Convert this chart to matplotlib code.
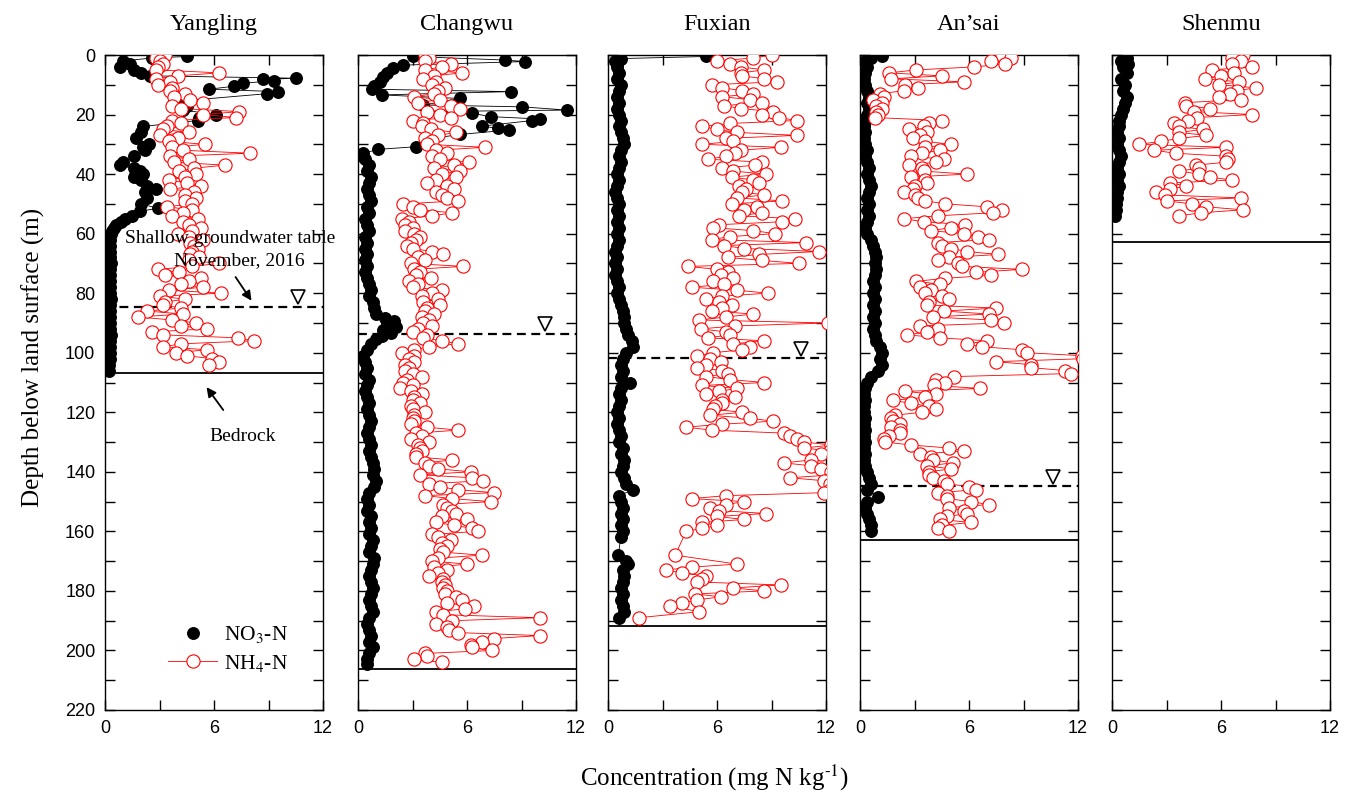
import numpy as np
import matplotlib

matplotlib.use("Agg")
import matplotlib.pyplot as plt

plt.rcParams["font.family"] = ["Liberation Serif", "DejaVu Serif"]
plt.rcParams["mathtext.fontset"] = "stix"

SITES = ["Yangling", "Changwu", "Fuxian", "An\u2019sai", "Shenmu"]
BEDROCK = [106.8, 206.2, 191.8, 162.9, 62.8]  # m
WATER_TABLE = [84.6, 93.7, 101.8, 144.8, None]  # m, November 2016
TRIANGLE_X = [10.6, 10.3, 10.6, 10.6, None]

# ---- NH4-N, sampled every 1 m from the surface (mg N / kg)
yl_nh4 = [
  3.3, 2.8, 3.0, 3.2, 2.9, 2.8, 6.3, 4.0, 2.8, 3.6,
  2.9, 3.7, 3.6, 4.4, 3.8, 4.7, 5.4, 3.7, 4.2, 7.4,
  5.4, 7.2, 3.7, 4.2, 3.4, 3.2, 4.6, 3.0, 4.0, 3.5,
  5.5, 3.7, 4.3, 8.0, 3.6, 4.6, 3.8, 6.6, 4.9, 4.1,
  5.0, 4.4, 3.5, 4.5, 5.3, 3.6, 4.9, 4.4, 5.0, 4.4,
  4.8, 3.4, 4.8, 4.3, 3.7, 5.1, 4.3, 4.6, 5.3, 4.8,
  4.0, 4.6, 5.4, 4.7, 4.9, 5.1, 4.8, 4.7, 5.2, 4.6,
  6.3, 4.8, 2.9, 4.1, 3.3, 5.3, 4.6, 4.2, 5.4, 3.5,
  6.4, 3.0, 4.4, 3.3, 3.2, 4.2, 2.3, 4.3, 1.8, 3.7,
  5.0, 4.2, 5.6, 2.6, 3.2, 7.3, 8.2, 4.2, 3.2, 5.6,
  3.9, 4.5, 5.9, 6.3, 5.7,
]
cw_nh4 = [
  3.7, 3.9, 3.7, 5.1, 4.6, 3.7, 5.7, 4.2, 3.6, 4.3,
  4.1, 4.8, 4.4, 4.2, 3.1, 4.5, 3.3, 5.1, 5.6, 3.8,
  4.5, 5.1, 3.0, 3.6, 3.5, 4.0, 5.4, 4.4, 3.7, 4.1,
  3.8, 7.0, 4.3, 4.9, 4.1, 4.5, 6.1, 5.3, 4.2, 5.6,
  4.6, 5.4, 4.3, 3.8, 4.9, 5.3, 4.3, 4.6, 4.9, 5.5,
  2.5, 3.0, 3.4, 5.2, 4.1, 2.4, 2.8, 2.6, 3.0, 2.6,
  3.1, 3.4, 3.2, 2.9, 2.7, 3.0, 4.1, 4.7, 3.3, 3.7,
  2.9, 5.8, 3.1, 3.4, 3.2, 4.0, 2.8, 3.3, 3.0, 4.6,
  4.1, 3.5, 4.4, 3.6, 4.5, 3.8, 3.7, 4.2, 3.5, 3.9,
  3.6, 4.1, 3.3, 3.0, 3.8, 3.6, 4.6, 5.5, 3.9, 3.1,
  2.4, 3.1, 2.8, 3.1, 2.6, 2.8, 2.6, 3.0, 3.5, 2.7,
  2.5, 3.0, 2.3, 2.9, 3.5, 3.1, 3.0, 3.4, 2.9, 3.0,
  3.7, 3.1, 3.0, 3.1, 2.9, 3.8, 5.5, 3.2, 3.5, 2.9,
  3.9, 3.3, 3.4, 3.5, 3.2, 3.2, 5.2, 3.7, 3.9, 4.4,
  6.2, 3.4, 6.3, 6.9, 3.9, 4.5, 5.5, 7.5, 3.7, 5.2,
  7.3, 4.7, 4.9, 5.2, 5.4, 4.6, 6.0, 4.3, 5.3, 6.3,
  6.6, 4.1, 4.4, 5.1, 4.6, 4.9, 4.5, 4.7, 6.8, 4.4,
  4.1, 6.0, 4.2, 4.9, 4.4, 3.9, 4.7, 4.6, 4.8, 4.7,
  4.9, 4.8, 5.4, 5.7, 4.9, 6.4, 5.9, 4.3, 4.7, 10.0,
  5.2, 4.3, 4.9, 5.0, 5.5, 10.0, 7.5, 6.8, 6.2, 6.3,
  7.4, 3.7, 3.8, 3.1, 4.6,
]
fx_nh4 = [
  9.0, 8.0, 6.0, 6.7, 7.3, 8.6, 7.3, 7.4, 8.6, 9.3,
  5.7, 6.3, 7.4, 8.0, 6.3, 7.8, 8.5, 6.4, 7.3, 9.1,
  8.5, 9.4, 10.4, 6.7, 5.2, 6.0, 7.1, 10.4, 6.5, 6.9,
  5.2, 9.5, 7.3, 7.0, 6.5, 5.5, 8.5, 8.1, 6.3, 6.9,
  8.7, 6.8, 8.0, 8.3, 7.2, 7.6, 7.4, 8.6, 7.1, 9.6,
  6.8, 8.2, 7.5, 8.5, 7.2, 10.3, 9.6, 6.1, 5.8, 8.0,
  9.2, 6.7, 5.7, 10.9, 6.4, 7.5, 11.6, 8.3, 6.6, 8.5,
  10.5, 4.4, 6.0, 6.6, 6.2, 6.9, 5.8, 6.4, 4.6, 7.1,
  8.8, 6.3, 5.4, 6.1, 6.8, 6.3, 5.7, 8.0, 6.5, 5.0,
  12.1, 7.0, 5.1, 6.5, 6.7, 5.5, 8.6, 6.9, 7.8, 7.4,
  5.8, 4.9, 5.6, 6.2, 5.4, 4.9, 6.3, 6.6, 5.4, 6.7,
  8.6, 5.2, 7.1, 6.1, 5.4, 7.0, 6.3, 6.3, 5.9, 5.8,
  7.4, 5.6, 7.8, 9.1, 6.3, 4.3, 5.7, 9.7, 10.0, 10.4,
  10.8, 12.3, 10.8, 12.2, 11.7, 12.4, 11.2, 9.7, 11.2, 11.7,
  12.3, 12.4, 10.0, 11.9, 12.2, 12.5, 12.2, 11.9, 6.5, 4.6,
  7.5, 6.5, 5.6, 6.1, 8.7, 6.0, 7.5, 5.2, 6.0, 5.2,
  4.3,
]
# Fuxian below 160 m was sampled irregularly
fx_nh4_tail_depth = [168, 171, 172, 173, 174, 175, 176, 177, 178, 179,
                     180, 181, 182, 183, 184, 185, 187, 189]
fx_nh4_tail = [3.7, 7.1, 4.6, 3.2, 4.1, 5.4, 5.2, 4.9, 9.5, 6.9,
               8.6, 4.8, 6.2, 4.9, 4.1, 3.4, 5.0, 1.7]
as_nh4 = [
  7.8, 8.3, 7.2, 8.0, 6.3, 3.1, 1.6, 4.5, 1.7, 5.7,
  2.5, 3.2, 2.4, 1.1, 1.3, 0.7, 1.2, 0.9, 1.2, 0.9,
  1.0, 0.8, 4.5, 3.8, 3.5, 2.7, 3.7, 3.3, 2.9, 3.6,
  5.0, 3.6, 4.4, 3.4, 2.8, 4.6, 4.2, 2.7, 3.4, 3.5,
  5.9, 2.8, 3.6, 3.7, 3.0, 2.9, 2.4, 3.0, 3.2, 3.6,
  4.7, 7.0, 7.8, 7.3, 4.3, 2.4, 3.5, 5.8, 5.0, 3.9,
  5.7, 6.5, 7.1, 4.3, 4.5, 5.0, 5.9, 7.6, 4.9, 4.3,
  5.4, 5.6, 8.9, 6.4, 7.2, 4.7, 3.1, 4.4, 3.3, 3.9,
  3.6, 4.5, 4.9, 3.8, 3.7, 7.5, 4.6, 7.1, 4.0, 7.2,
  7.9, 3.3, 4.3, 3.7, 2.6, 4.4, 7.0, 5.9, 6.7, 8.9,
  9.2, 12.2, 12.3, 7.5, 9.4, 9.4, 11.3, 11.6, 5.2, 4.2,
  4.7, 4.1, 6.6, 2.5, 4.2, 3.6, 1.8, 2.8, 3.8, 4.2,
  3.4, 1.9, 1.7, 1.8, 2.2, 1.7, 2.2, 2.2, 1.6, 1.3,
  1.4, 2.8, 4.9, 5.7, 3.3, 3.9, 4.0, 5.1, 3.7, 5.0,
  3.8, 3.8, 4.0, 4.6, 4.8, 6.0, 6.4, 4.3, 4.8, 4.8,
  6.1, 7.1, 4.9, 5.7, 5.9, 4.8, 4.4, 6.1, 4.5, 4.3,
  4.9,
]
sm_nh4 = [
  7.2, 6.6, 7.1, 6.6, 7.7, 5.5, 6.7, 6.0, 5.1, 7.0,
  5.9, 7.9, 6.9, 6.5, 5.9, 7.1, 4.0, 4.1, 5.4, 4.5,
  7.7, 4.7, 4.2, 3.4, 3.7, 5.0, 3.7, 5.2, 3.7, 2.7,
  1.5, 6.3, 2.3, 3.5, 6.3, 6.4, 6.3, 4.6, 4.8, 3.7,
  4.8, 5.4, 6.6, 3.2, 4.1, 3.2, 2.4, 2.9, 7.1, 3.0,
  4.4, 5.2, 7.2, 4.9, 3.7,
]

# ---- NO3-N (depth in m, value in mg N / kg)
yl_no3_depth = np.r_[
  [0.5, 1.0, 2, 3, 4, 5, 6, 7, 7.8, 8.2, 8.6, 9.5, 10.5, 11.5, 12.3, 13,
   15.5, 17, 18.5, 20, 21, 22, 24, 26, 28, 30, 31, 32, 34, 36, 37, 38, 39,
   40, 41, 42, 44, 45, 46, 48, 50, 51.5, 52.5, 54, 55, 56, 57, 58, 59, 60],
  np.arange(62, 107, 2)]
yl_no3 = [
  4.5, 2.6, 1.0, 1.4, 0.8, 1.6, 2.0, 2.5, 10.5, 8.7, 9.3, 7.6, 7.1, 5.7, 9.5, 8.9,
  4.1, 4.5, 4.3, 6.1, 5.2, 5.1, 2.1, 2.0, 1.7, 2.4, 2.1, 2.2, 1.6, 1.0, 0.8, 1.6, 1.9,
  2.1, 1.6, 2.0, 2.3, 2.8, 2.2, 2.3, 2.0, 2.9, 1.9, 1.5, 1.1, 0.9, 0.6, 0.5, 0.4, 0.35,
  0.3, 0.3, 0.25, 0.3, 0.35, 0.3, 0.3, 0.25, 0.3, 0.3, 0.35, 0.3, 0.3, 0.25, 0.3, 0.3,
  0.35, 0.3, 0.3, 0.25, 0.3, 0.2, 0.2,
]
cw_no3_depth = np.r_[
  [0.5, 1.7, 2.2, 3.4, 4.5, 6, 7.5, 9, 10.5, 11.5, 12.3, 13.4, 14.6, 16.8, 17.4,
   18.5, 19, 19.6, 20.7, 21.5, 22, 23.9, 24.6, 25.2, 26.7, 28, 30.8, 31.7, 33, 34],
  np.arange(35, 88, 2),
  [88.5, 89.5, 90.5, 91.5, 92.5, 93.5, 94.5, 95.5],
  np.arange(97, 204, 2), [204.5]]
cw_no3 = [
  3.0, 8.1, 9.2, 2.5, 1.9, 1.6, 1.4, 1.2, 0.9, 0.75, 8.4, 1.3, 5.6, 3.6, 9.0,
  11.5, 3.8, 6.3, 7.3, 10.0, 9.6, 6.8, 7.7, 8.3, 5.6, 4.1, 3.2, 1.1, 0.3, 0.2,
  0.4, 0.6, 0.5, 0.7, 0.6, 0.5, 0.6, 0.7, 0.5, 0.6, 0.4, 0.5, 0.6, 0.4, 0.5, 0.4,
  0.5, 0.4, 0.5, 0.4, 0.5, 0.6, 0.7, 0.6, 0.8, 0.9, 1.0,
  1.5, 2.0, 1.6, 2.1, 1.4, 1.8, 1.3, 1.0,
  0.7, 0.5, 0.3, 0.4, 0.5, 0.4, 0.6, 0.5, 0.4, 0.5,
  0.6, 0.5, 0.6, 0.7, 0.6, 0.5, 0.6, 0.7, 0.6, 0.7,
  0.8, 0.9, 0.8, 1.0, 0.9, 0.6, 0.5, 0.6, 0.5, 0.7,
  0.6, 0.7, 0.6, 0.8, 0.7, 0.6, 0.9, 0.8, 0.7, 0.6,
  0.7, 0.8, 0.7, 0.6, 0.7, 0.8, 0.6, 0.5, 0.6, 0.7,
  0.6, 0.8, 0.6, 0.5, 0.5,
]
fx_no3_depth = np.r_[[0.5, 1.2, 2, 3], np.arange(4, 163, 2),
                     [168, 170, 171], np.arange(173, 190, 2)]
fx_no3 = [
  5.4, 0.7, 0.4, 0.5,
  0.5, 0.6, 0.5, 0.7, 0.6, 0.5, 0.6, 0.5, 0.6, 0.7,
  0.6, 0.7, 0.8, 0.9, 0.7, 0.6, 0.7, 0.6, 0.5, 0.6,
  0.5, 0.4, 0.5, 0.6, 0.5, 0.6, 0.5, 0.6, 0.5, 0.6,
  0.5, 0.4, 0.5, 0.4, 0.5, 0.4, 0.5, 0.6, 0.5, 0.6,
  0.7, 0.8, 0.9, 0.9, 1.0, 1.1, 1.3, 1.4, 1.0, 0.8,
  0.7, 0.8, 0.7, 1.2, 0.7, 0.6, 0.7, 0.6, 0.5, 0.6,
  0.5, 0.6, 0.7, 0.6, 0.8, 0.7, 0.9, 0.8, 0.7, 0.9,
  1.0, 1.4, 0.6, 0.7, 0.8, 0.7, 0.8, 0.7, 0.8, 0.7,
  0.57, 1.0, 1.1,
  0.8, 0.9, 0.8, 0.7, 0.8, 0.7, 0.8, 0.9, 0.6,
]
as_no3_depth = np.r_[[0.5, 1], np.arange(2, 147, 2), [148.4], np.arange(150, 161, 2)]
as_no3 = [
  1.2, 0.6,
  0.3, 0.4, 0.3, 0.2, 0.3, 0.4, 0.5, 0.4, 0.5, 0.4,
  0.3, 0.2, 0.3, 0.2, 0.3, 0.4, 0.3, 0.4, 0.5, 0.4,
  0.5, 0.6, 0.5, 0.4, 0.5, 0.4, 0.5, 0.4, 0.3, 0.4,
  0.6, 0.7, 0.8, 0.9, 0.8, 0.9, 0.8, 0.7, 0.8, 0.7,
  0.8, 0.7, 0.8, 0.7, 0.8, 0.7, 0.8, 0.9, 1.1, 1.2,
  1.1, 1.2, 1.0, 0.6, 0.4, 0.3, 0.2, 0.3, 0.2, 0.2,
  0.3, 0.2, 0.3, 0.2, 0.3, 0.2, 0.3, 0.2, 0.3, 0.4,
  0.5, 0.6, 0.4,
  1.0,
  0.4, 0.3, 0.4, 0.5, 0.6, 0.6,
]
sm_no3_depth = np.r_[[0, 1, 2, 3], np.arange(4, 55, 2)]
sm_no3 = [
  0.7, 0.8, 0.5, 0.9,
  0.6, 0.8, 0.5, 0.7, 0.6, 0.8, 0.7, 0.6, 0.5, 0.4,
  0.4, 0.3, 0.4, 0.3, 0.4, 0.5, 0.4, 0.3, 0.4, 0.3,
  0.4, 0.3, 0.3, 0.2, 0.2, 0.15,
]

NH4 = [
  (np.arange(len(yl_nh4)), yl_nh4),
  (np.arange(len(cw_nh4)), cw_nh4),
  (np.r_[np.arange(len(fx_nh4)), fx_nh4_tail_depth], fx_nh4 + fx_nh4_tail),
  (np.arange(len(as_nh4)), as_nh4),
  (np.arange(len(sm_nh4)), sm_nh4),
]
NO3 = [
  (yl_no3_depth, yl_no3),
  (cw_no3_depth, cw_no3),
  (fx_no3_depth, fx_no3),
  (as_no3_depth, as_no3),
  (sm_no3_depth, sm_no3),
]

W, H = 1360, 802
LEFTS = [105, 358, 608, 860, 1112]
TOP, BOTTOM, PANEL_W = 55, 710, 218

fig = plt.figure(figsize=(W / 100, H / 100), dpi=100)

for i, site in enumerate(SITES):
  ax = fig.add_axes([LEFTS[i] / W, 1 - BOTTOM / H, PANEL_W / W, (BOTTOM - TOP) / H])
  ax.set_xlim(0, 12)
  ax.set_ylim(220, 0)

  d3, v3 = NO3[i]
  ax.plot(v3, d3, color="black", lw=0.6, zorder=3)
  ax.plot(v3, d3, ls="none", marker="o", ms=8.3, color="black", zorder=3,
          label="NO$_3$-N")
  d4, v4 = NH4[i]
  ax.plot(v4, d4, color="red", lw=0.6, marker="o", ms=9.5, mfc="white",
          mec="red", mew=0.8, zorder=4, label="NH$_4$-N")

  ax.axhline(BEDROCK[i], color="black", lw=1.3, zorder=2)
  if WATER_TABLE[i] is not None:
    ax.axhline(WATER_TABLE[i], color="black", lw=1.6, ls=(0, (4, 2.5)), zorder=2)
    ax.plot([TRIANGLE_X[i]], [WATER_TABLE[i] - 3.2], marker="v", ms=10,
            mfc="white", mec="black", mew=1.2, ls="none", zorder=5)

  ax.set_xticks([0, 3, 6, 9, 12])
  ax.set_xticklabels(["0", "", "6", "", "12"])
  ax.set_yticks(np.arange(0, 221, 10))
  if i == 0:
    ax.set_yticklabels([str(v) if v % 20 == 0 else "" for v in range(0, 221, 10)])
  else:
    ax.set_yticklabels([])
  ax.tick_params(direction="in", top=True, right=True, length=7, width=1,
                 labelsize=13, pad=7)
  for lbl in ax.get_xticklabels() + ax.get_yticklabels():
    lbl.set_fontfamily("Liberation Sans")
  for sp in ax.spines.values():
    sp.set_linewidth(1.0)

  ax.text(0.5, 1.038, site, transform=ax.transAxes, ha="center", va="baseline",
          fontsize=17.5)

  if i == 0:
    ax.legend(loc="center left", bbox_to_anchor=(0.2, 0.093), frameon=False,
              fontsize=15.5, handlelength=2.3, handletextpad=0.3,
              labelspacing=0.35, numpoints=1)
    ax.text(6.9, 61.5, "Shallow groundwater table", ha="center", va="center",
            fontsize=14, zorder=6)
    ax.text(7.4, 69, "November, 2016", ha="center", va="center",
            fontsize=14, zorder=6)
    ax.annotate("", xy=(8.15, 83.3), xytext=(7.1, 73.8), zorder=6,
                arrowprops=dict(arrowstyle="-|>", color="black", lw=1.3,
                                mutation_scale=14))
    ax.text(7.6, 128.3, "Bedrock", ha="center", va="center", fontsize=14)
    ax.annotate("", xy=(5.5, 110.8), xytext=(6.6, 120), zorder=6,
                arrowprops=dict(arrowstyle="-|>", color="black", lw=1.3,
                                mutation_scale=14))

fig.text(33 / W, 1 - 357 / H, "Depth below land surface (m)", rotation=90,
         ha="center", va="center", fontsize=18)
fig.text(715 / W, 1 - 778 / H, "Concentration (mg N kg$^{\\text{-}1}$)",
         ha="center", va="center", fontsize=18)

fig.savefig("out.png", dpi=100)
